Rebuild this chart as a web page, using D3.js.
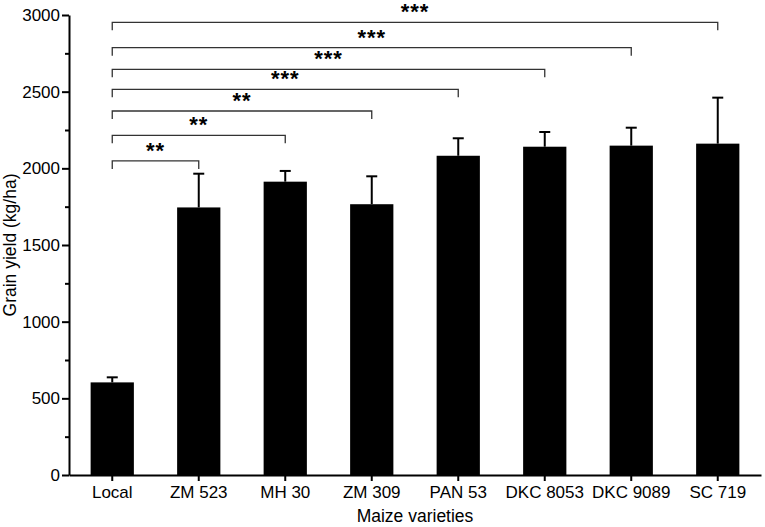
<!DOCTYPE html>
<html>
<head>
<meta charset="utf-8">
<script src="https://cdn.jsdelivr.net/npm/d3@7"></script>
<style>
  body { margin: 0; background: #fff; }
  text { font-family: "Liberation Sans", Arial, sans-serif; }
</style>
</head>
<body>
<script>
// Dados
const varieties = ["Local", "ZM 523", "MH 30", "ZM 309", "PAN 53", "DKC 8053", "DKC 9089", "SC 719"];
const yieldMean = [604, 1745, 1913, 1766, 2082, 2141, 2148, 2161];
const yieldErr = [33, 220, 70, 182, 114, 96, 117, 300];

// Comparações contra "Local"
const compareTo = ["ZM 523", "MH 30", "ZM 309", "PAN 53", "DKC 8053", "DKC 9089", "SC 719"];
const compareLevel = [2048, 2215, 2374, 2515, 2646, 2787, 2952];
const compareStars = ["**", "**", "**", "***", "***", "***", "***"];

const yMajorTicks = [0, 500, 1000, 1500, 2000, 2500, 3000];
const yMinorTicks = [250, 750, 1250, 1750, 2250, 2750];

const width = 765, height = 527;
const margin = { left: 69, right: 4, top: 15, bottom: 52 };

const svg = d3.select("body").append("svg")
  .attr("width", width)
  .attr("height", height);

// Escalas
const xBand = d3.scaleBand()
  .domain(varieties)
  .range([margin.left, width - margin.right])
  .paddingInner(0.5)
  .paddingOuter(0.25);

const yScale = d3.scaleLinear()
  .domain([0, 3000])
  .range([height - margin.bottom, margin.top]);

const data = varieties.map((v, i) => ({ name: v, mean: yieldMean[i], err: yieldErr[i] }));
const cx = d => xBand(d) + xBand.bandwidth() / 2;

// Barras
svg.append("g").selectAll("rect")
  .data(data)
  .enter()
  .append("rect")
  .attr("x", d => xBand(d.name))
  .attr("y", d => yScale(d.mean))
  .attr("width", xBand.bandwidth())
  .attr("height", d => yScale(0) - yScale(d.mean))
  .attr("fill", "#000");

// Barras de erro (apenas para cima)
const errG = svg.append("g").attr("stroke", "#000").attr("stroke-width", 2);
errG.selectAll("line.v")
  .data(data)
  .enter()
  .append("line")
  .attr("class", "v")
  .attr("x1", d => cx(d.name))
  .attr("x2", d => cx(d.name))
  .attr("y1", d => yScale(d.mean))
  .attr("y2", d => yScale(d.mean + d.err));
errG.selectAll("line.cap")
  .data(data)
  .enter()
  .append("line")
  .attr("class", "cap")
  .attr("x1", d => cx(d.name) - 5.5)
  .attr("x2", d => cx(d.name) + 5.5)
  .attr("y1", d => yScale(d.mean + d.err))
  .attr("y2", d => yScale(d.mean + d.err));

// Colchetes de significância
const tip = 8;
const brG = svg.append("g");
compareTo.forEach((target, i) => {
  const x1 = cx(varieties[0]);
  const x2 = cx(target);
  const y = yScale(compareLevel[i]);
  brG.append("path")
    .attr("d", `M${x1},${y + tip}V${y}H${x2}V${y + tip}`)
    .attr("fill", "none")
    .attr("stroke", "#333")
    .attr("stroke-width", 1.3);
  brG.append("text")
    .attr("x", (x1 + x2) / 2)
    .attr("y", y - 3)
    .attr("text-anchor", "middle")
    .attr("font-size", 22)
    .attr("font-weight", "bold")
    .attr("letter-spacing", 1)
    .text(compareStars[i]);
});

// Eixo Y
const yAxis = svg.append("g")
  .attr("transform", `translate(${margin.left},0)`)
  .call(d3.axisLeft(yScale).tickValues(yMajorTicks).tickFormat(d3.format("d"))
    .tickSize(7).tickSizeOuter(0).tickPadding(2));
yAxis.select(".domain").attr("stroke-width", 2);
yAxis.selectAll(".tick line").attr("stroke-width", 2);
yAxis.selectAll("text").attr("font-size", 17).attr("fill", "#000");

const yMinor = svg.append("g")
  .attr("transform", `translate(${margin.left},0)`)
  .call(d3.axisLeft(yScale).tickValues(yMinorTicks).tickSize(4).tickFormat(""));
yMinor.select(".domain").remove();
yMinor.selectAll(".tick line").attr("stroke-width", 2);

// Eixo X
const xAxis = svg.append("g")
  .attr("transform", `translate(0,${yScale(0)})`)
  .call(d3.axisBottom(xBand).tickSize(6).tickSizeOuter(0).tickPadding(5));
xAxis.select(".domain").attr("stroke-width", 2);
xAxis.selectAll(".tick line").attr("stroke-width", 2);
xAxis.selectAll("text").attr("font-size", 17).attr("fill", "#000");

// Títulos dos eixos
svg.append("text")
  .attr("x", (margin.left + width - margin.right) / 2)
  .attr("y", 522)
  .attr("text-anchor", "middle")
  .attr("font-size", 17.5)
  .text("Maize varieties");

svg.append("text")
  .attr("transform", "rotate(-90)")
  .attr("x", -(yScale(0) + yScale(3000)) / 2)
  .attr("y", 16)
  .attr("text-anchor", "middle")
  .attr("font-size", 17.5)
  .text("Grain yield (kg/ha)");
</script>
</body>
</html>
